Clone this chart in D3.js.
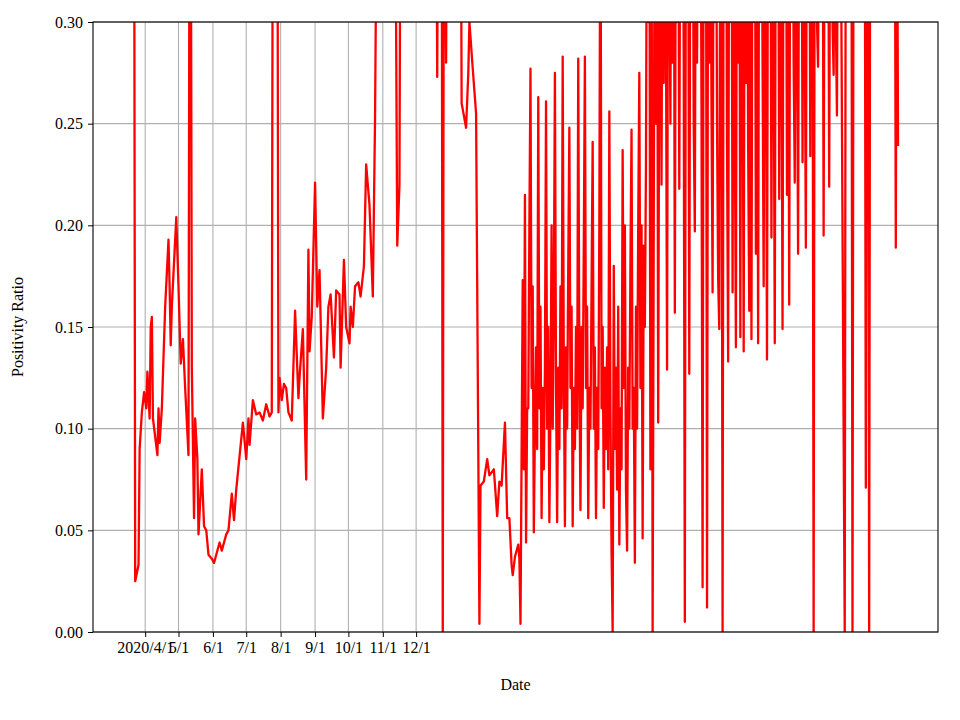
<!DOCTYPE html>
<html>
<head>
<meta charset="utf-8">
<script src="https://cdn.jsdelivr.net/npm/d3@7"></script>
<style>
  body { margin: 0; background: #fff; }
  text { font-family: "Liberation Serif", "DejaVu Serif", serif; }
</style>
</head>
<body>
<svg id="chart" width="960" height="720"></svg>
<script>
// day offsets are counted from this date
const baseDate = "2020-03-22";

// [day offset, positivity ratio] ; values above 0.3 run off the top of the plot
const spring2020 = [
  [0,.4],[1,.025],[4,.033],[5,.09],[7,.108],[9,.118],[11,.11],[12,.128],[14,.105],[15,.15],
  [16,.155],[17,.105],[21,.087],[22,.11],[23,.093],[25,.11],[28,.16],[31,.193],[32,.17],[33,.141],
  [34,.16],[38,.204],[40,.17],[42,.132],[44,.144],[46,.12],[49,.087],[50,.4],[51,.4],[52,.13],
  [54,.056],[55,.105],[57,.085],[58,.048],[61,.08],[63,.052],[65,.05],[67,.038],[70,.036],[72,.034],
  [74,.038],[77,.044],[79,.04],[83,.048],[85,.05],[88,.068],[90,.055],[92,.07],[96,.092],[98,.103],
  [101,.085],[103,.105],[104,.092],[107,.114],[110,.107],[113,.108],[116,.104],[119,.112],[122,.106],[124,.108]
];
const autumn2020 = [
  [125,.4],[129,.4],[130,.108],[131,.125],[133,.114],[135,.122],[137,.12],[139,.108],[142,.104],[145,.158],
  [148,.115],[149,.125],[152,.149],[155,.075],[157,.188],[158,.138],[160,.155],[163,.221],[165,.16],[167,.178],
  [170,.105],[173,.13],[175,.16],[177,.166],[180,.135],[182,.168],[185,.166],[186,.13],[189,.183],[191,.15],
  [194,.142],[195,.16],[197,.15],[199,.17],[202,.172],[204,.165],[207,.18],[209,.23],[212,.21],[215,.165],
  [217,.252],[219,.4],[235,.4],[237,.19],[239,.22],[240,.4],[272,.4],[273,.273],[274,.4],[277,.4],
  [278,0],[279,.4],[281,.28],[282,.4],[294,.4],[295,.26],[299,.248],[301,.275],[302,.3],[305,.277],[308,.255]
];
const spring2021 = [
  [311,.004],[312,.072],[315,.074],[318,.085],[320,.077],[324,.08],[327,.057],[329,.074],[331,.072],[334,.103],
  [336,.056],[338,.056],[340,.033],[341,.028],[343,.037],[346,.043],[347,.036],[348,.004],[350,.173],[351,.08],
  [352,.215],[353,.044],[354,.11],
  [355,.11],[356,.2],[357,.277],[358,.12],[359,.17],[360,.049],[361,.1],[362,.14],[363,.09],[364,.263],
  [365,.11],[366,.16],[367,.056],[368,.12],[369,.08],[370,.13],[371,.261],[372,.1],[373,.15],[374,.054],
  [375,.11],[376,.2],[377,.1],[378,.16],[379,.275],[380,.12],[381,.054],[382,.13],[383,.09],[384,.17],
  [385,.11],[386,.283],[387,.13],[388,.052],[389,.14],[390,.1],[391,.18],[392,.248],[393,.12],[394,.16],
  [395,.052],[396,.12],[397,.09],[398,.15],[399,.1],[400,.282],[401,.13],[402,.06],[403,.15],[404,.11],
  [405,.19],[406,.283],[407,.12],[408,.16],[409,.056],[410,.12],[411,.1],[412,.17],[413,.241],[414,.1],
  [415,.14],[416,.056],[417,.12],[418,.09],[419,.2],[420,.4],[421,.11],[422,.15],[423,.061],[424,.13],
  [425,.09],[426,.14],[427,.08],[428,.256],[429,.11],[430,.04],[431,0],[432,.18],[433,.09],[434,.13],
  [435,.07],[436,.16],[437,.043],[438,.11],[439,.08],[440,.237],[441,.12],[442,.2],[443,.07],[444,.04],
  [445,.13],[446,.1],[447,.18],[448,.247],[449,.1],[450,.12],[451,.034],[452,.16],[453,.1],[454,.2],
  [455,.275],[456,.12],[457,.2],[458,.046],[459,.19],[460,.15],[461,.23]
];
const autumn2021 = [
  [462,.4],[463,.3],[464,.4],[465,.08],[466,.4],[467,0],[468,.2],[469,.4],[470,.25],[471,.4],
  [472,.103],[473,.3],[474,.4],[475,.22],[476,.4],[477,.27],[478,.4],[479,.3],[480,.129],[481,.4],
  [482,.35],[483,.25],[484,.4],[485,.28],[486,.4],[487,.157],[488,.4],[489,.3],[490,.4],[491,.218],
  [492,.4],[493,.35],[494,.4],[495,.28],[496,.005],[497,.4],[498,.3],[499,.4],[500,.127],[501,.4],
  [502,.3],[503,.4],[504,.25],[505,.197],[506,.4],[507,.28],[508,.4],[509,.3],[510,.4],[511,.26],
  [512,.022],[513,.4],[514,.3],[515,.4],[516,.012],[517,.4],[518,.28],[519,.4],[520,.26],[521,.167],
  [522,.4],[523,.3],[524,.4],[525,.25],[526,.174],[527,.149],[528,.4],[529,.35],[530,0],[531,.4],
  [532,.3],[533,.4],[534,.24],[535,.133],[536,.4],[537,.3],[538,.4],[539,.167],[540,.4],[541,.25],
  [542,.14],[543,.4],[544,.28],[545,.4],[546,.145],[547,.4],[548,.3],[549,.138],[550,.4],[551,.27],
  [552,.4],[553,.24],[554,.158],[555,.4],[556,.144],[557,.4],[558,.3],[559,.4],[560,.186],[561,.4]
];
const winter2022 = [
  [562,.142],[563,.4],[564,.3],[565,.4],[566,.28],[567,.17],[568,.4],[569,.3],[570,.134],[571,.4],
  [572,.3],[573,.4],[574,.194],[575,.4],[576,.3],[577,.142],[578,.4],[579,.35],[580,.4],[581,.213],
  [582,.4],[583,.3],[584,.149],[585,.4],[586,.3],[587,.4],[588,.215],[589,.4],[590,.161],[591,.4],
  [592,.3],[593,.4],[594,.28],[595,.221],[596,.4],[597,.3],[598,.186],[599,.4],[600,.35],[601,.4],
  [602,.231],[603,.4],[604,.3],[605,.189],[606,.4],[607,.3],[608,.4],[609,.234],[610,.4],[611,.35],
  [612,0],[613,.4],[614,.4],[615,.3],[616,.278],[617,.4],[618,.4],[619,.35],[620,.4],[621,.195],
  [622,.4],[623,.4],[624,.3],[625,.4],[626,.219],[627,.4],[628,.4],[629,.3],[630,.274],[631,.4],
  [632,.3],[633,.254],[634,.4],[636,.4],[640,0],[641,.4],[646,.4],[647,0],[648,.4],[658,.4],
  [659,.071],[660,.4],[661,.4],[662,0],[663,.4],[685,.4],[686,.189],[687,.4],[688,.239]
];

const xDomain = ["2020-02-14", "2022-03-16"];
const xTicks = ["2020-04-01","2020-05-01","2020-06-01","2020-07-01","2020-08-01",
                "2020-09-01","2020-10-01","2020-11-01","2020-12-01"];
const xTickLabels = ["2020/4/1","5/1","6/1","7/1","8/1","9/1","10/1","11/1","12/1"];
const yTicks = [0, 0.05, 0.10, 0.15, 0.20, 0.25, 0.30];

const parse = d3.timeParse("%Y-%m-%d");
const base = parse(baseDate);
const data = [...spring2020, ...autumn2020, ...spring2021, ...autumn2021, ...winter2022]
  .map(([d, v]) => ({ date: d3.timeDay.offset(base, d), value: v }));

const margin = { top: 22, right: 22, bottom: 88, left: 93 };
const svg = d3.select("#chart");
const width = 960 - margin.left - margin.right;
const height = 720 - margin.top - margin.bottom;
const g = svg.append("g").attr("transform", `translate(${margin.left},${margin.top})`);

const x = d3.scaleTime().domain(xDomain.map(parse)).range([0, width]);
const y = d3.scaleLinear().domain([0, 0.3]).range([height, 0]);

// grid
g.append("g").selectAll("line").data(xTicks.map(parse)).join("line")
  .attr("x1", d => x(d)).attr("x2", d => x(d)).attr("y1", 0).attr("y2", height)
  .attr("stroke", "#b0b0b0").attr("stroke-width", 1.1);
g.append("g").selectAll("line").data(yTicks).join("line")
  .attr("x1", 0).attr("x2", width).attr("y1", d => y(d)).attr("y2", d => y(d))
  .attr("stroke", "#b0b0b0").attr("stroke-width", 1.1);

// line
g.append("clipPath").attr("id", "clip")
  .append("rect").attr("width", width).attr("height", height);
g.append("path")
  .datum(data)
  .attr("clip-path", "url(#clip)")
  .attr("fill", "none")
  .attr("stroke", "#ff0000")
  .attr("stroke-width", 2.3)
  .attr("stroke-linejoin", "round")
  .attr("d", d3.line().x(d => x(d.date)).y(d => y(d.value)));

// axes
const xAxis = g.append("g").attr("transform", `translate(0,${height})`)
  .call(d3.axisBottom(x).tickValues(xTicks.map(parse))
    .tickFormat((d, i) => xTickLabels[i]).tickSizeOuter(0).tickSize(5).tickPadding(5));
const yAxis = g.append("g")
  .call(d3.axisLeft(y).tickValues(yTicks).tickFormat(d3.format(".2f"))
    .tickSizeOuter(0).tickSize(5).tickPadding(5));
[xAxis, yAxis].forEach(a => {
  a.selectAll("text").attr("font-size", 16).attr("fill", "#000")
    .style("font-family", '"Liberation Serif", serif');
  a.selectAll("line").attr("stroke", "#000");
  a.select(".domain").remove();
});

g.append("rect").attr("width", width).attr("height", height)
  .attr("fill", "none").attr("stroke", "#000").attr("stroke-width", 1.1);

g.append("text").attr("x", width / 2).attr("y", height + 58)
  .attr("text-anchor", "middle").attr("font-size", 16).text("Date");
g.append("text").attr("transform", `translate(-70,${height / 2}) rotate(-90)`)
  .attr("text-anchor", "middle").attr("font-size", 16).text("Positivity Ratio");
</script>
</body>
</html>
